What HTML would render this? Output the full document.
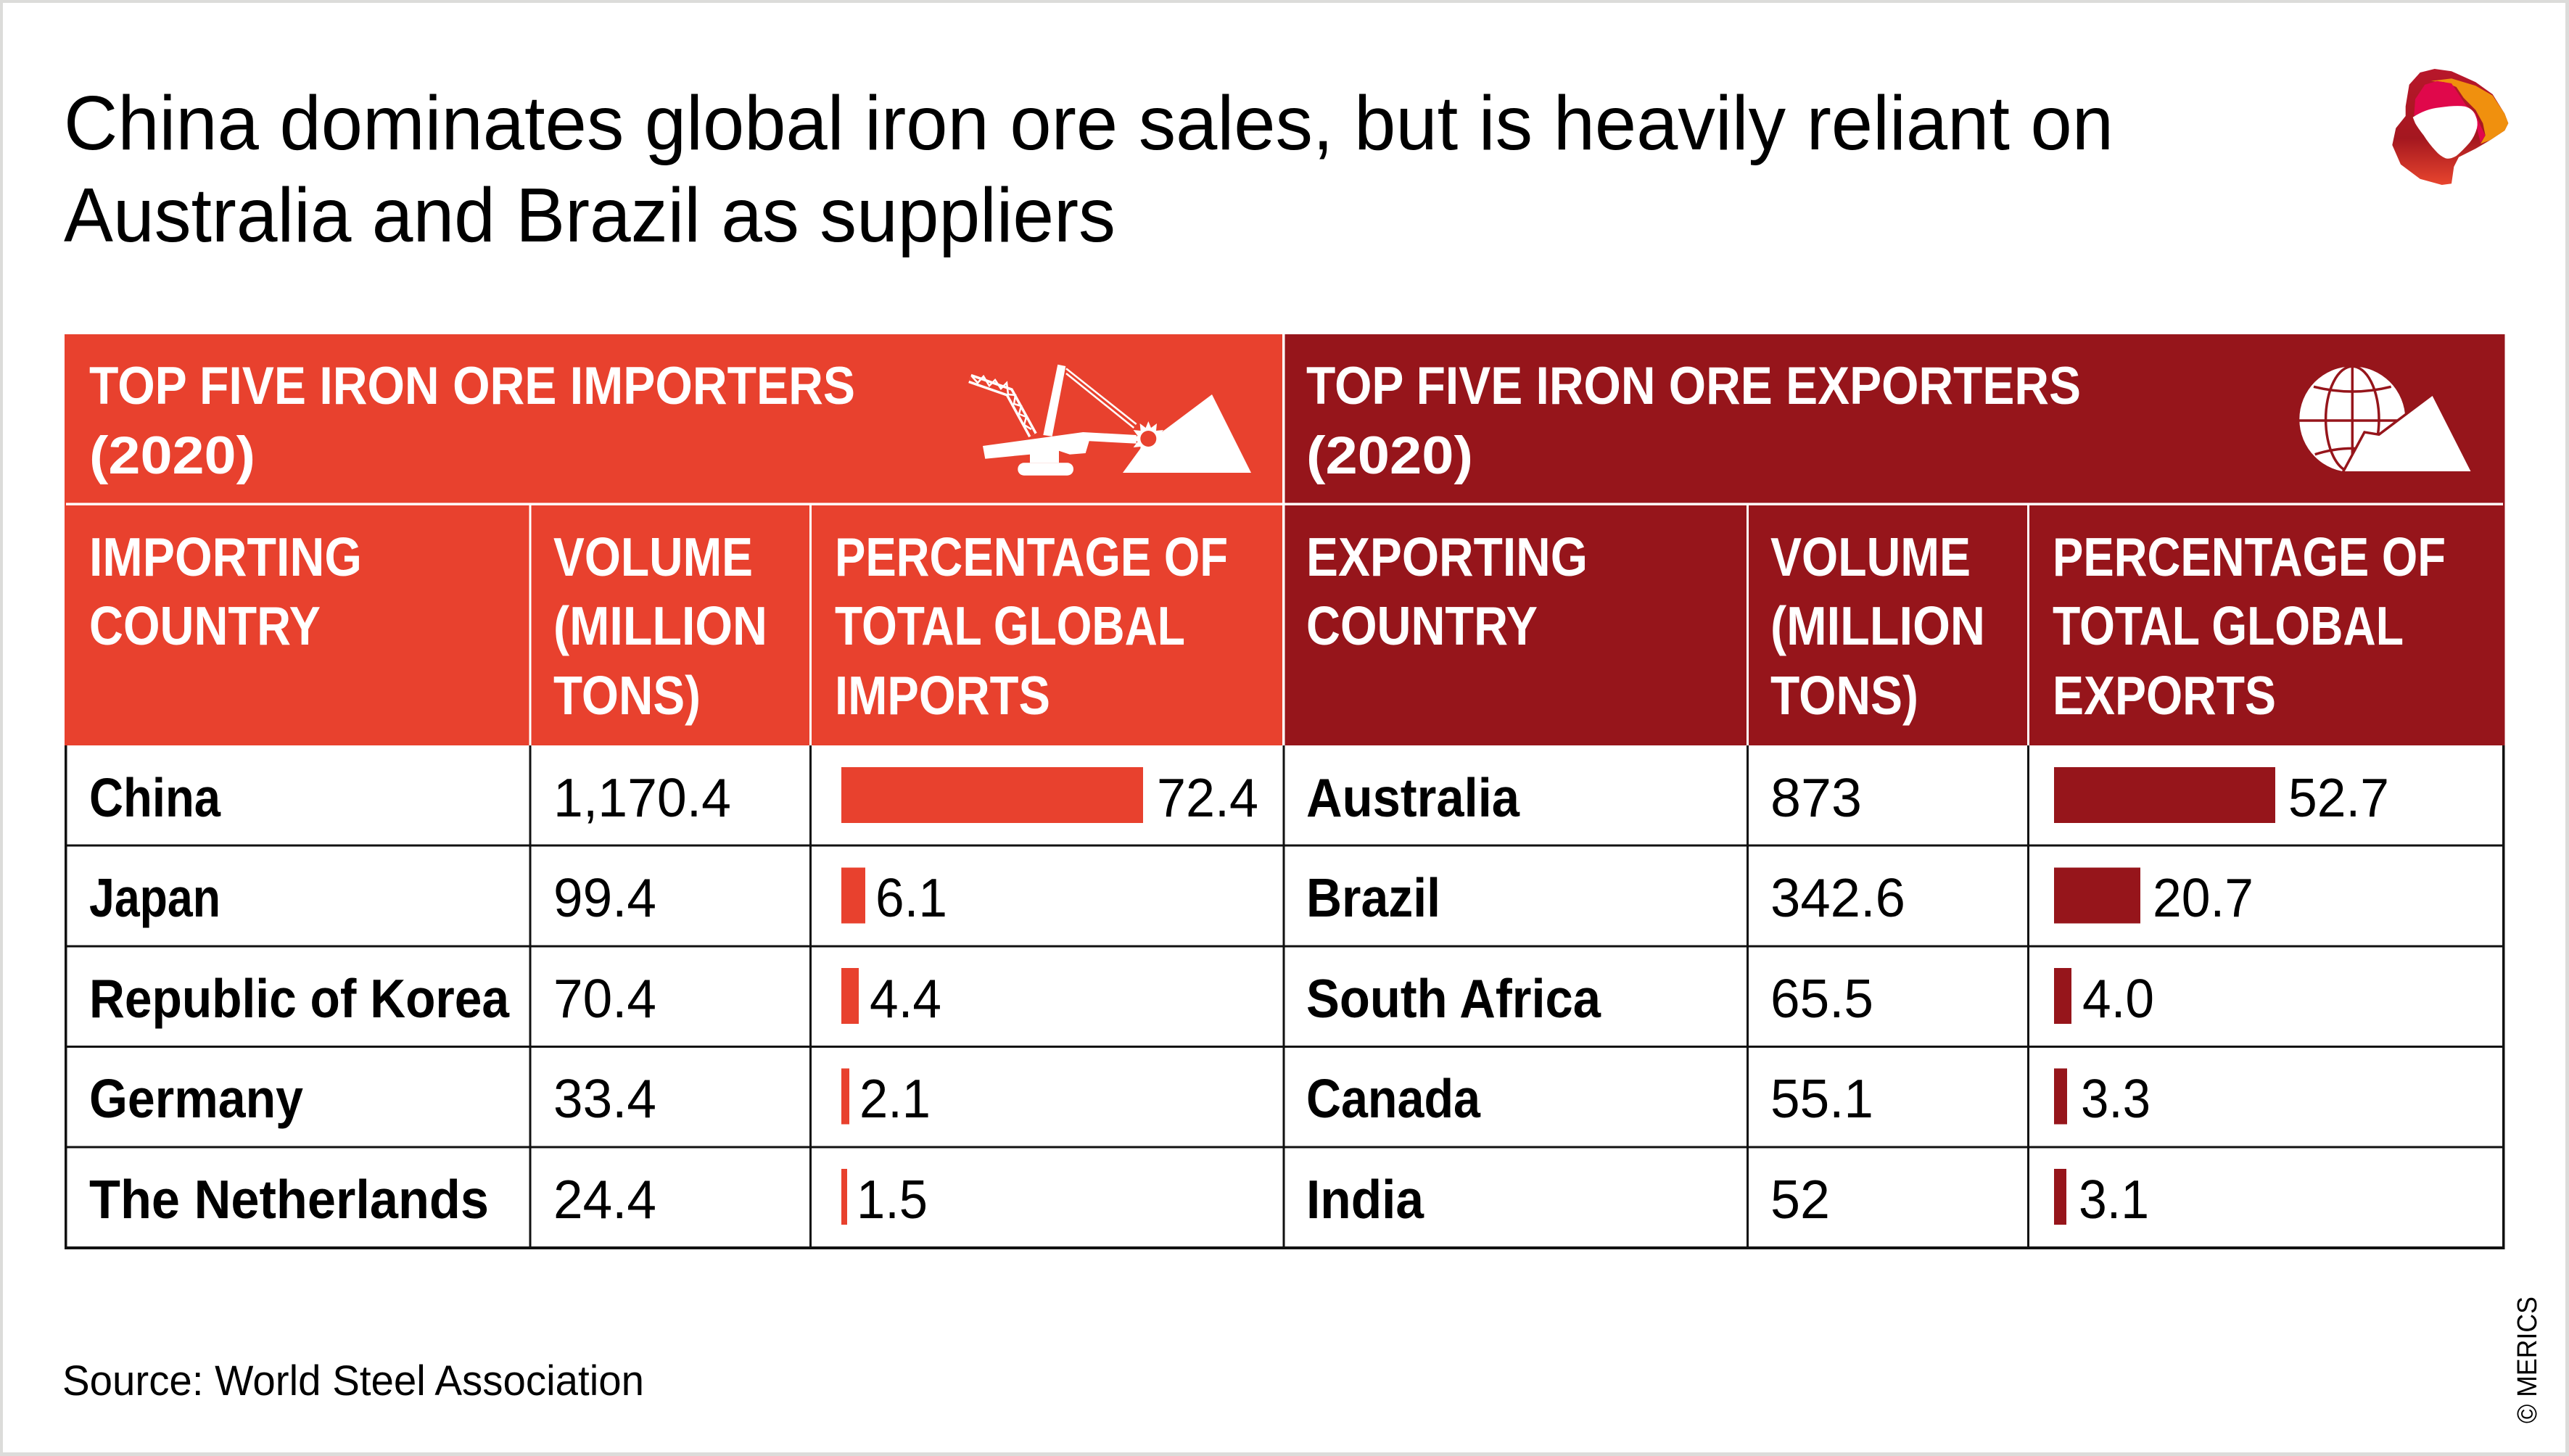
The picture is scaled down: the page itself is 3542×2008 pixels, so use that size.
<!DOCTYPE html>
<html>
<head>
<meta charset="utf-8">
<style>
html,body{margin:0;padding:0;background:#fff;}
svg{display:block;}
text{font-family:"Liberation Sans",sans-serif;}
.w{fill:#fff;font-weight:bold;}
.b{fill:#000;font-weight:bold;}
.n{fill:#000;font-weight:normal;}
</style>
</head>
<body>
<svg width="3542" height="2008" viewBox="0 0 3542 2008" xmlns="http://www.w3.org/2000/svg">
<defs>
<linearGradient id="lg" x1="0" y1="0" x2="0" y2="1">
<stop offset="0" stop-color="#B8172B"/>
<stop offset="0.6" stop-color="#A4171F"/>
<stop offset="1" stop-color="#E8452E"/>
</linearGradient>
</defs>
<rect x="0" y="0" width="3542" height="2008" fill="#dcdcda"/>
<rect x="4" y="4" width="3533" height="1999" fill="#ffffff"/>

<!-- Title -->
<text x="88" y="206" font-size="106" textLength="2826" lengthAdjust="spacingAndGlyphs" fill="#000">China dominates global iron ore sales, but is heavily reliant on</text>
<text x="88" y="333" font-size="106" textLength="1450" lengthAdjust="spacingAndGlyphs" fill="#000">Australia and Brazil as suppliers</text>

<!-- Logo -->
<g>
<path d="M3316.7,146.7 L3321.7,116.7 L3336.7,100 L3356.7,95 L3380,98.3 L3413.3,113.3 L3436.7,130 L3453.3,156.7 L3458.3,170 L3453.3,180 L3433.3,193.3 L3413.3,205 L3390,216.7 L3383.3,230 L3380,253.3 L3366.7,255 L3336.7,246.7 L3310,226.7 L3298.3,200 L3303.3,176.7 L3316.7,160 Z" fill="url(#lg)"/>
<path d="M3351.7,111.7 L3380,108.3 L3413.3,118.3 L3436.7,131.7 L3453.3,156.7 L3458.3,170 L3453.3,180 L3433.3,193.3 L3420,198.3 L3426.7,186.7 L3423.3,170 L3413.3,151.7 L3396.7,135 L3386.7,120 L3370,113.3 Z" fill="#F0900E"/>
<path d="M3328.3,160 L3330,136.7 L3343.3,116.7 L3360,111.7 L3380,115 L3390,130 L3400,145 L3413.3,156.7 L3420,173.3 L3426.7,186.7 L3420,196.7 L3415,176.7 L3413.3,160 L3398.3,146.7 L3363.3,148.3 Z" fill="#E0084B"/>
<path d="M3326.7,161.7 Q3345,150 3363.3,148.3 Q3385,145 3398.3,146.7 Q3410,150 3413.3,160 Q3417,168 3415,176.7 Q3412,188 3405,196.7 Q3395,208 3386.7,215 Q3378,220 3371.7,218.3 Q3364,215 3358.3,208.3 Q3348,197 3341.7,186.7 Q3334,177 3330,170 Z" fill="#fff"/>
</g>

<!-- Header backgrounds -->
<rect x="89" y="461" width="1681" height="567" fill="#E8412E"/>
<rect x="1770" y="461" width="1683.5" height="567" fill="#96151B"/>
<rect x="1768" y="461" width="3.5" height="567" fill="#fff"/>
<rect x="91" y="693.5" width="3360" height="3.5" fill="#fff"/>
<rect x="729.5" y="697" width="3" height="331" fill="#fff"/>
<rect x="1116" y="697" width="3" height="331" fill="#fff"/>
<rect x="2408" y="697" width="3" height="331" fill="#fff"/>
<rect x="2795" y="697" width="3" height="331" fill="#fff"/>

<!-- Header texts -->
<text class="w" x="123" y="557" font-size="73" textLength="1056" lengthAdjust="spacingAndGlyphs">TOP FIVE IRON ORE IMPORTERS</text>
<text class="w" x="123" y="653" font-size="73" textLength="229" lengthAdjust="spacingAndGlyphs">(2020)</text>
<text class="w" x="1801" y="557" font-size="73" textLength="1068" lengthAdjust="spacingAndGlyphs">TOP FIVE IRON ORE EXPORTERS</text>
<text class="w" x="1801" y="653" font-size="73" textLength="230" lengthAdjust="spacingAndGlyphs">(2020)</text>

<!-- Column headers importers -->
<text class="w" x="123" y="794" font-size="75" textLength="376" lengthAdjust="spacingAndGlyphs">IMPORTING</text>
<text class="w" x="123" y="889" font-size="75" textLength="319" lengthAdjust="spacingAndGlyphs">COUNTRY</text>
<text class="w" x="763" y="794" font-size="75" textLength="275" lengthAdjust="spacingAndGlyphs">VOLUME</text>
<text class="w" x="763" y="889" font-size="75" textLength="295" lengthAdjust="spacingAndGlyphs">(MILLION</text>
<text class="w" x="763" y="985" font-size="75" textLength="203" lengthAdjust="spacingAndGlyphs">TONS)</text>
<text class="w" x="1151" y="794" font-size="75" textLength="542" lengthAdjust="spacingAndGlyphs">PERCENTAGE OF</text>
<text class="w" x="1151" y="889" font-size="75" textLength="483" lengthAdjust="spacingAndGlyphs">TOTAL GLOBAL</text>
<text class="w" x="1151" y="985" font-size="75" textLength="297" lengthAdjust="spacingAndGlyphs">IMPORTS</text>

<!-- Column headers exporters -->
<text class="w" x="1801" y="794" font-size="75" textLength="388" lengthAdjust="spacingAndGlyphs">EXPORTING</text>
<text class="w" x="1801" y="889" font-size="75" textLength="319" lengthAdjust="spacingAndGlyphs">COUNTRY</text>
<text class="w" x="2441" y="794" font-size="75" textLength="276" lengthAdjust="spacingAndGlyphs">VOLUME</text>
<text class="w" x="2441" y="889" font-size="75" textLength="296" lengthAdjust="spacingAndGlyphs">(MILLION</text>
<text class="w" x="2441" y="985" font-size="75" textLength="204" lengthAdjust="spacingAndGlyphs">TONS)</text>
<text class="w" x="2830" y="794" font-size="75" textLength="542" lengthAdjust="spacingAndGlyphs">PERCENTAGE OF</text>
<text class="w" x="2830" y="889" font-size="75" textLength="484" lengthAdjust="spacingAndGlyphs">TOTAL GLOBAL</text>
<text class="w" x="2830" y="985" font-size="75" textLength="308" lengthAdjust="spacingAndGlyphs">EXPORTS</text>

<!-- Importer icon -->
<g fill="#fff">
<polygon points="1548,652 1575,615 1607,592 1671,544 1725,652"/>
<polygon points="1438.3,600 1458.3,502.7 1469.3,505 1450.7,601.7"/>
<line x1="1470" y1="508.3" x2="1566.7" y2="585" stroke="#fff" stroke-width="2.5"/>
<line x1="1470" y1="515" x2="1563.3" y2="590" stroke="#fff" stroke-width="2.5"/>
<polyline points="1337.3,522 1391.7,541 1424,600" fill="none" stroke="#fff" stroke-width="13" stroke-linejoin="miter"/>
<polyline points="1337.3,522 1391.7,541 1424,600" fill="none" stroke="#E8412E" stroke-width="6" stroke-linejoin="miter"/>
<polyline points="1340,519 1348,528 1356,519 1364,532 1372,524 1380,536 1388,528 1390,544 1400,545 1398,557 1408,560 1405,571 1415,575 1412,586 1422,592" fill="none" stroke="#fff" stroke-width="2.5"/>
<polygon points="1355,615 1493.3,596 1566.7,600 1566.7,611.7 1501.7,608.3 1496.7,625 1475,626.7 1460,621.7 1460,638.3 1420,638.3 1420,626.7 1358.3,632.7"/>
<rect x="1403.3" y="638.3" width="76.7" height="17.4" rx="8.5"/>
<polygon points="1583.3,581 1587,590 1595,584 1594,594 1604,593 1598,601 1607,605 1598,609 1604,617 1594,616 1595,626 1587,620 1583.3,629 1579.6,620 1571.6,626 1572.6,616 1562.6,617 1568.6,609 1559.6,605 1568.6,601 1562.6,593 1572.6,594 1571.6,584 1579.6,590"/>
<circle cx="1583.3" cy="605" r="11" fill="#E8412E"/>
</g>

<!-- Globe icon -->
<g>
<circle cx="3243.3" cy="578.3" r="73" fill="#fff"/>
<g fill="none" stroke="#96151B" stroke-width="3.5">
<line x1="3243.3" y1="505" x2="3243.3" y2="652"/>
<ellipse cx="3243.3" cy="578.3" rx="36.7" ry="73"/>
<line x1="3170" y1="580" x2="3317" y2="580"/>
<path d="M3190,533.3 Q3243.3,546.7 3296.7,533.3"/>
<path d="M3191.7,626.7 Q3243.3,610 3295,626.7"/>
</g>
<polygon points="3230,651.7 3260,596 3280,599.3 3354.3,543.3 3409.3,651.7" fill="#fff" stroke="#96151B" stroke-width="3.5" stroke-linejoin="miter"/>
<rect x="3222" y="652.5" width="200" height="20" fill="#96151B"/>
</g>

<!-- Body grid lines -->
<g fill="#111">
<rect x="89" y="1028" width="3.5" height="695"/>
<rect x="729.5" y="1028" width="3" height="695"/>
<rect x="1116" y="1028" width="3" height="695"/>
<rect x="1768.5" y="1028" width="3" height="695"/>
<rect x="2408" y="1028" width="3" height="695"/>
<rect x="2795" y="1028" width="3" height="695"/>
<rect x="3450" y="1028" width="3.5" height="695"/>
<rect x="89" y="1164.5" width="3364.5" height="3"/>
<rect x="89" y="1303.5" width="3364.5" height="3"/>
<rect x="89" y="1442" width="3364.5" height="3"/>
<rect x="89" y="1580.5" width="3364.5" height="3"/>
<rect x="89" y="1719" width="3364.5" height="4"/>
</g>

<!-- Importer bars -->
<g fill="#E8412E">
<rect x="1160" y="1058" width="416" height="77"/>
<rect x="1160" y="1196.5" width="33" height="77"/>
<rect x="1160" y="1335" width="24" height="77"/>
<rect x="1160" y="1473.5" width="11" height="77"/>
<rect x="1160" y="1612" width="8" height="77"/>
</g>
<!-- Exporter bars -->
<g fill="#96151B">
<rect x="2832" y="1058" width="305" height="77"/>
<rect x="2832" y="1196.5" width="119" height="77"/>
<rect x="2832" y="1335" width="24" height="77"/>
<rect x="2832" y="1473.5" width="18" height="77"/>
<rect x="2832" y="1612" width="17" height="77"/>
</g>

<!-- Importer rows -->
<text class="b" x="123" y="1126" font-size="75" textLength="181" lengthAdjust="spacingAndGlyphs">China</text>
<text class="b" x="123" y="1264" font-size="75" textLength="181" lengthAdjust="spacingAndGlyphs">Japan</text>
<text class="b" x="123" y="1403" font-size="75" textLength="579" lengthAdjust="spacingAndGlyphs">Republic of Korea</text>
<text class="b" x="123" y="1541" font-size="75" textLength="295" lengthAdjust="spacingAndGlyphs">Germany</text>
<text class="b" x="123" y="1680" font-size="75" textLength="551" lengthAdjust="spacingAndGlyphs">The Netherlands</text>

<text class="n" x="763" y="1126" font-size="75" textLength="245" lengthAdjust="spacingAndGlyphs">1,170.4</text>
<text class="n" x="763" y="1264" font-size="75" textLength="142" lengthAdjust="spacingAndGlyphs">99.4</text>
<text class="n" x="763" y="1403" font-size="75" textLength="142" lengthAdjust="spacingAndGlyphs">70.4</text>
<text class="n" x="763" y="1541" font-size="75" textLength="142" lengthAdjust="spacingAndGlyphs">33.4</text>
<text class="n" x="763" y="1680" font-size="75" textLength="142" lengthAdjust="spacingAndGlyphs">24.4</text>

<text class="n" x="1595" y="1126" font-size="75" textLength="140" lengthAdjust="spacingAndGlyphs">72.4</text>
<text class="n" x="1207" y="1264" font-size="75" textLength="99" lengthAdjust="spacingAndGlyphs">6.1</text>
<text class="n" x="1199" y="1403" font-size="75" textLength="99" lengthAdjust="spacingAndGlyphs">4.4</text>
<text class="n" x="1185" y="1541" font-size="75" textLength="98" lengthAdjust="spacingAndGlyphs">2.1</text>
<text class="n" x="1181" y="1680" font-size="75" textLength="98" lengthAdjust="spacingAndGlyphs">1.5</text>

<!-- Exporter rows -->
<text class="b" x="1801" y="1126" font-size="75" textLength="294" lengthAdjust="spacingAndGlyphs">Australia</text>
<text class="b" x="1801" y="1264" font-size="75" textLength="185" lengthAdjust="spacingAndGlyphs">Brazil</text>
<text class="b" x="1801" y="1403" font-size="75" textLength="406" lengthAdjust="spacingAndGlyphs">South Africa</text>
<text class="b" x="1801" y="1541" font-size="75" textLength="240" lengthAdjust="spacingAndGlyphs">Canada</text>
<text class="b" x="1801" y="1680" font-size="75" textLength="162" lengthAdjust="spacingAndGlyphs">India</text>

<text class="n" x="2441" y="1126" font-size="75" textLength="126" lengthAdjust="spacingAndGlyphs">873</text>
<text class="n" x="2441" y="1264" font-size="75" textLength="186" lengthAdjust="spacingAndGlyphs">342.6</text>
<text class="n" x="2441" y="1403" font-size="75" textLength="142" lengthAdjust="spacingAndGlyphs">65.5</text>
<text class="n" x="2441" y="1541" font-size="75" textLength="142" lengthAdjust="spacingAndGlyphs">55.1</text>
<text class="n" x="2441" y="1680" font-size="75" textLength="82" lengthAdjust="spacingAndGlyphs">52</text>

<text class="n" x="3155" y="1126" font-size="75" textLength="139" lengthAdjust="spacingAndGlyphs">52.7</text>
<text class="n" x="2968" y="1264" font-size="75" textLength="139" lengthAdjust="spacingAndGlyphs">20.7</text>
<text class="n" x="2871" y="1403" font-size="75" textLength="99" lengthAdjust="spacingAndGlyphs">4.0</text>
<text class="n" x="2869" y="1541" font-size="75" textLength="96" lengthAdjust="spacingAndGlyphs">3.3</text>
<text class="n" x="2866" y="1680" font-size="75" textLength="97" lengthAdjust="spacingAndGlyphs">3.1</text>

<!-- Source -->
<text class="n" x="86" y="1924" font-size="58" textLength="802" lengthAdjust="spacingAndGlyphs">Source: World Steel Association</text>

<!-- Copyright -->
<text class="n" transform="translate(3497,1963) rotate(-90)" font-size="38" textLength="175" lengthAdjust="spacingAndGlyphs">© MERICS</text>
</svg>
</body>
</html>
